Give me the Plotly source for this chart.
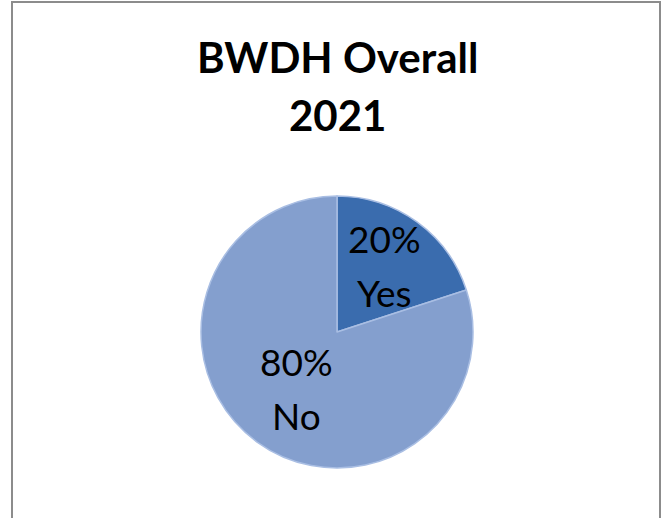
import math
import plotly.graph_objects as go

# Survey result
title_lines = ["BWDH Overall", "2021"]
categories = ["Yes", "No"]
values = [20, 80]
colors = ["#3A6CAE", "#849FCE"]

W, H = 666, 518
FONT = "Lato, Carlito, Calibri, sans-serif"
# pie placement in pixels (centre x, centre y from top, radius)
cx, cy, r = 337, 332, 136
label_radius = [0.60, 0.51]
label_line_gap = 54
title_y = [54, 112]

fig = go.Figure()
fig.add_trace(go.Pie(
    labels=categories,
    values=values,
    sort=False,
    direction="clockwise",
    rotation=0,
    marker=dict(colors=colors, line=dict(color="#A9BEE3", width=1.5)),
    textinfo="none",
    hoverinfo="label+percent",
    showlegend=False,
    domain=dict(x=[(cx - r) / W, (cx + r) / W],
                y=[(H - cy - r) / H, (H - cy + r) / H]),
))


def text_at(px, py, text, size, bold=False):
    fig.add_annotation(
        x=px / W, y=1 - py / H, xref="paper", yref="paper",
        xanchor="center", yanchor="middle",
        text=f"<b>{text}</b>" if bold else text,
        showarrow=False,
        font=dict(family=FONT, size=size, color="#000"),
    )


# labels placed at each slice's mid-angle
total = sum(values)
start = 0.0
for cat, val, frac in zip(categories, values, label_radius):
    share = val / total
    mid = (start + share / 2) * 2 * math.pi
    start += share
    px = cx + frac * r * math.sin(mid)
    py = cy - frac * r * math.cos(mid)
    text_at(px, py - label_line_gap / 2, f"{round(share * 100)}%", 37)
    text_at(px, py + label_line_gap / 2, cat, 37)

for line, ty in zip(title_lines, title_y):
    text_at(337, ty + 3, line, 42, bold=True)

fig.update_layout(
    width=W, height=H,
    margin=dict(l=0, r=0, t=0, b=0),
    paper_bgcolor="white",
    plot_bgcolor="white",
    shapes=[dict(
        type="rect", xref="paper", yref="paper",
        x0=12 / W, x1=660 / W, y0=-0.02, y1=1 - 2 / H,
        line=dict(color="#8C8C8C", width=2), fillcolor="rgba(0,0,0,0)",
    )],
)

fig.write_html("out.html")
